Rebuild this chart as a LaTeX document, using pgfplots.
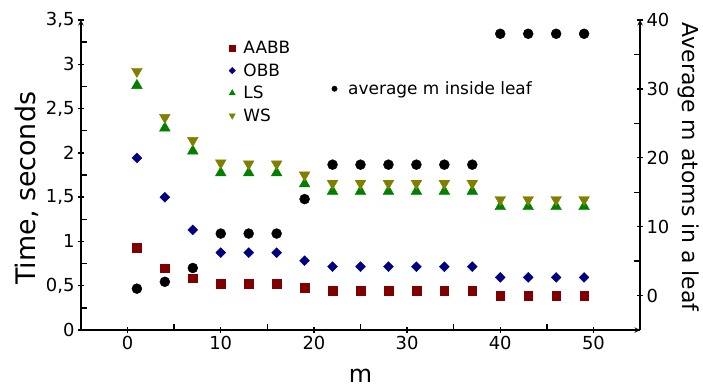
\documentclass[border=0pt]{standalone}
\usepackage{fontspec}
\setmainfont{DejaVu Sans}
\usepackage{pgfplots}
\usepackage{pgfplotstable}
\pgfplotsset{compat=1.18}
\definecolor{cAABB}{HTML}{800000}
\definecolor{cOBB}{HTML}{000080}
\definecolor{cLS}{HTML}{008000}
\definecolor{cWS}{HTML}{808000}

\pgfplotstableread{
x    aabb   obb    ls     ws     avg
1    0.926  1.943  2.760  2.920  1
4    0.696  1.498  2.280  2.400  2
7    0.583  1.130  2.020  2.140  4
10   0.520  0.873  1.774  1.887  9
13   0.520  0.873  1.774  1.875  9
16   0.520  0.873  1.774  1.875  9
19   0.475  0.783  1.650  1.750  14
22   0.447  0.715  1.566  1.656  19
25   0.447  0.715  1.566  1.656  19
28   0.447  0.715  1.566  1.656  19
31   0.447  0.715  1.566  1.656  19
34   0.447  0.715  1.566  1.656  19
37   0.444  0.715  1.566  1.656  19
40   0.390  0.594  1.393  1.472  38
43   0.390  0.594  1.393  1.472  38
46   0.390  0.594  1.393  1.472  38
49   0.390  0.594  1.393  1.472  38
}\datatable

\pgfplotsset{
  common/.style={
    scale only axis, width=559bp, height=310bp,
    at={(0,0)}, anchor=south west,
    xmin=-5, xmax=55,
    /pgf/number format/assume math mode=true,
    /pgf/number format/use comma,
    tick label style={font=\fontsize{18}{21}\selectfont},
    tick align=outside,
    major tick length=6bp, minor tick length=6bp,
    axis line style={line width=1.4bp, -},
    every tick/.style={line width=1.4bp, black},
    legend cell align=left,
  }
}

\begin{document}
\begin{tikzpicture}
\begin{axis}[common,
  ymin=0, ymax=3.5,
  axis x line=bottom, axis y line=left,
  xtick={0,10,20,30,40,50}, minor xtick={-5,5,15,25,35,45,55},
  ytick={0,0.5,1,1.5,2,2.5,3,3.5},
  minor ytick={0.25,0.75,1.25,1.75,2.25,2.75,3.25},
  minor x tick style={yshift=3bp}, minor y tick style={xshift=3bp},
  xlabel={m}, ylabel={Time, seconds},
  every axis x label/.style={at={(axis description cs:0.5,-0.148)}, anchor=center, font=\fontsize{24}{27}\selectfont},
  every axis y label/.style={at={(axis description cs:-0.0966,0.457)}, anchor=center, rotate=90, font=\fontsize{27}{30}\selectfont},
  legend style={at={(rel axis cs:0.259,0.945)}, anchor=north west, draw=none, fill=none,
    font=\fontsize{17}{20}\selectfont, row sep=4.5bp,
    /tikz/every odd column/.append style={column sep=6bp}},
]
\addplot[only marks, mark=square*, mark size=4.3bp, color=cAABB,
  legend image post style={mark size=3bp}] table[x=x, y=aabb] {\datatable};
\addlegendentry{AABB}
\addplot[only marks, mark=square*, mark size=3.5bp, mark options={rotate=45}, color=cOBB,
  legend image post style={mark size=2.3bp}] table[x=x, y=obb] {\datatable};
\addlegendentry{OBB}
\addplot[only marks, mark=triangle*, mark size=6.2bp, color=cLS,
  legend image post style={mark size=3.5bp}] table[x=x, y=ls] {\datatable};
\addlegendentry{LS}
\addplot[only marks, mark=triangle*, mark size=6.2bp, mark options={rotate=180}, color=cWS,
  legend image post style={mark size=3.5bp}] table[x=x, y=ws] {\datatable};
\addlegendentry{WS}
\end{axis}

\begin{axis}[common,
  ymin=-5, ymax=40,
  axis x line=none, axis y line=right,
  ytick={0,10,20,30,40}, minor ytick={-5,5,15,25,35},
  minor y tick style={xshift=-3bp},
  ylabel={Average m atoms in a leaf},
  every axis y label/.style={at={(axis description cs:1.086,0.525)}, anchor=center, rotate=-90, font=\fontsize{22}{25}\selectfont},
  legend style={at={(rel axis cs:0.443,0.815)}, anchor=north west, draw=none, fill=none,
    font=\fontsize{17}{20}\selectfont,
    /tikz/every odd column/.append style={column sep=9bp}},
]
\addplot[only marks, mark=*, mark size=5bp, color=black,
  legend image post style={mark size=2.7bp}] table[x=x, y=avg] {\datatable};
\addlegendentry{average m inside leaf}
\end{axis}
\pgfresetboundingbox
\path (-81bp,-58bp) rectangle (622bp,330bp);
\end{tikzpicture}
\end{document}
